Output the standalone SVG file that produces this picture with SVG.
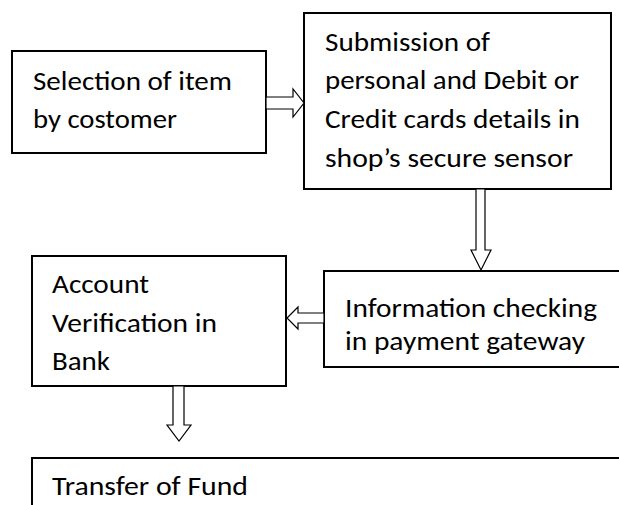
<svg xmlns="http://www.w3.org/2000/svg" width="619" height="505" viewBox="0 0 619 505">
<style>
.box{fill:#fff;stroke:#000;stroke-width:2}
.t{font-family:Carlito,Lato,"Liberation Sans",sans-serif;font-size:26.5px;fill:#000}
.arr{fill:#fff;stroke:#000;stroke-width:1.2;stroke-linejoin:miter}
</style>
<rect width="619" height="505" fill="#fff"/>
<g id="node-selection">
<rect class="box" x="12" y="51" width="254" height="102"/>
<text class="t" x="33" y="90" textLength="199" lengthAdjust="spacingAndGlyphs">Selection of item</text>
<text class="t" x="33" y="128" textLength="144" lengthAdjust="spacingAndGlyphs">by costomer</text>
</g>
<g id="node-submission">
<rect class="box" x="304" y="13" width="307" height="176"/>
<text class="t" x="325" y="51" textLength="165" lengthAdjust="spacingAndGlyphs">Submission of</text>
<text class="t" x="325" y="89" textLength="254" lengthAdjust="spacingAndGlyphs">personal and Debit or</text>
<text class="t" x="325" y="128" textLength="255" lengthAdjust="spacingAndGlyphs">Credit cards details in</text>
<text class="t" x="325" y="167" textLength="248" lengthAdjust="spacingAndGlyphs">shop’s secure sensor</text>
</g>
<g id="node-information">
<rect class="box" x="324" y="271" width="320" height="96"/>
<text class="t" x="345" y="317" textLength="252" lengthAdjust="spacingAndGlyphs">Information checking</text>
<text class="t" x="345" y="350" textLength="240" lengthAdjust="spacingAndGlyphs">in payment gateway</text>
</g>
<g id="node-account">
<rect class="box" x="32" y="256" width="254" height="130"/>
<text class="t" x="52" y="293" textLength="97" lengthAdjust="spacingAndGlyphs">Account</text>
<text class="t" x="52" y="332" textLength="165" lengthAdjust="spacingAndGlyphs">Verification in</text>
<text class="t" x="52" y="370" textLength="58" lengthAdjust="spacingAndGlyphs">Bank</text>
</g>
<g id="node-transfer">
<rect class="box" x="32" y="458" width="620" height="80"/>
<text class="t" x="52" y="495" textLength="196" lengthAdjust="spacingAndGlyphs">Transfer of Fund</text>
</g>
<g id="connectors">
<polygon class="arr" points="266,97 293,97 293,89 304,103 293,117 293,109 266,109"/>
<polygon class="arr" points="476,189 485,189 485,250 491,250 481,270 471,250 476,250"/>
<polygon class="arr" points="324,313 298,313 298,307 287,318 298,329 298,323 324,323"/>
<polygon class="arr" points="173,386 184,386 184,425 191,425 179,441 167,425 173,425"/>
</g>
</svg>
